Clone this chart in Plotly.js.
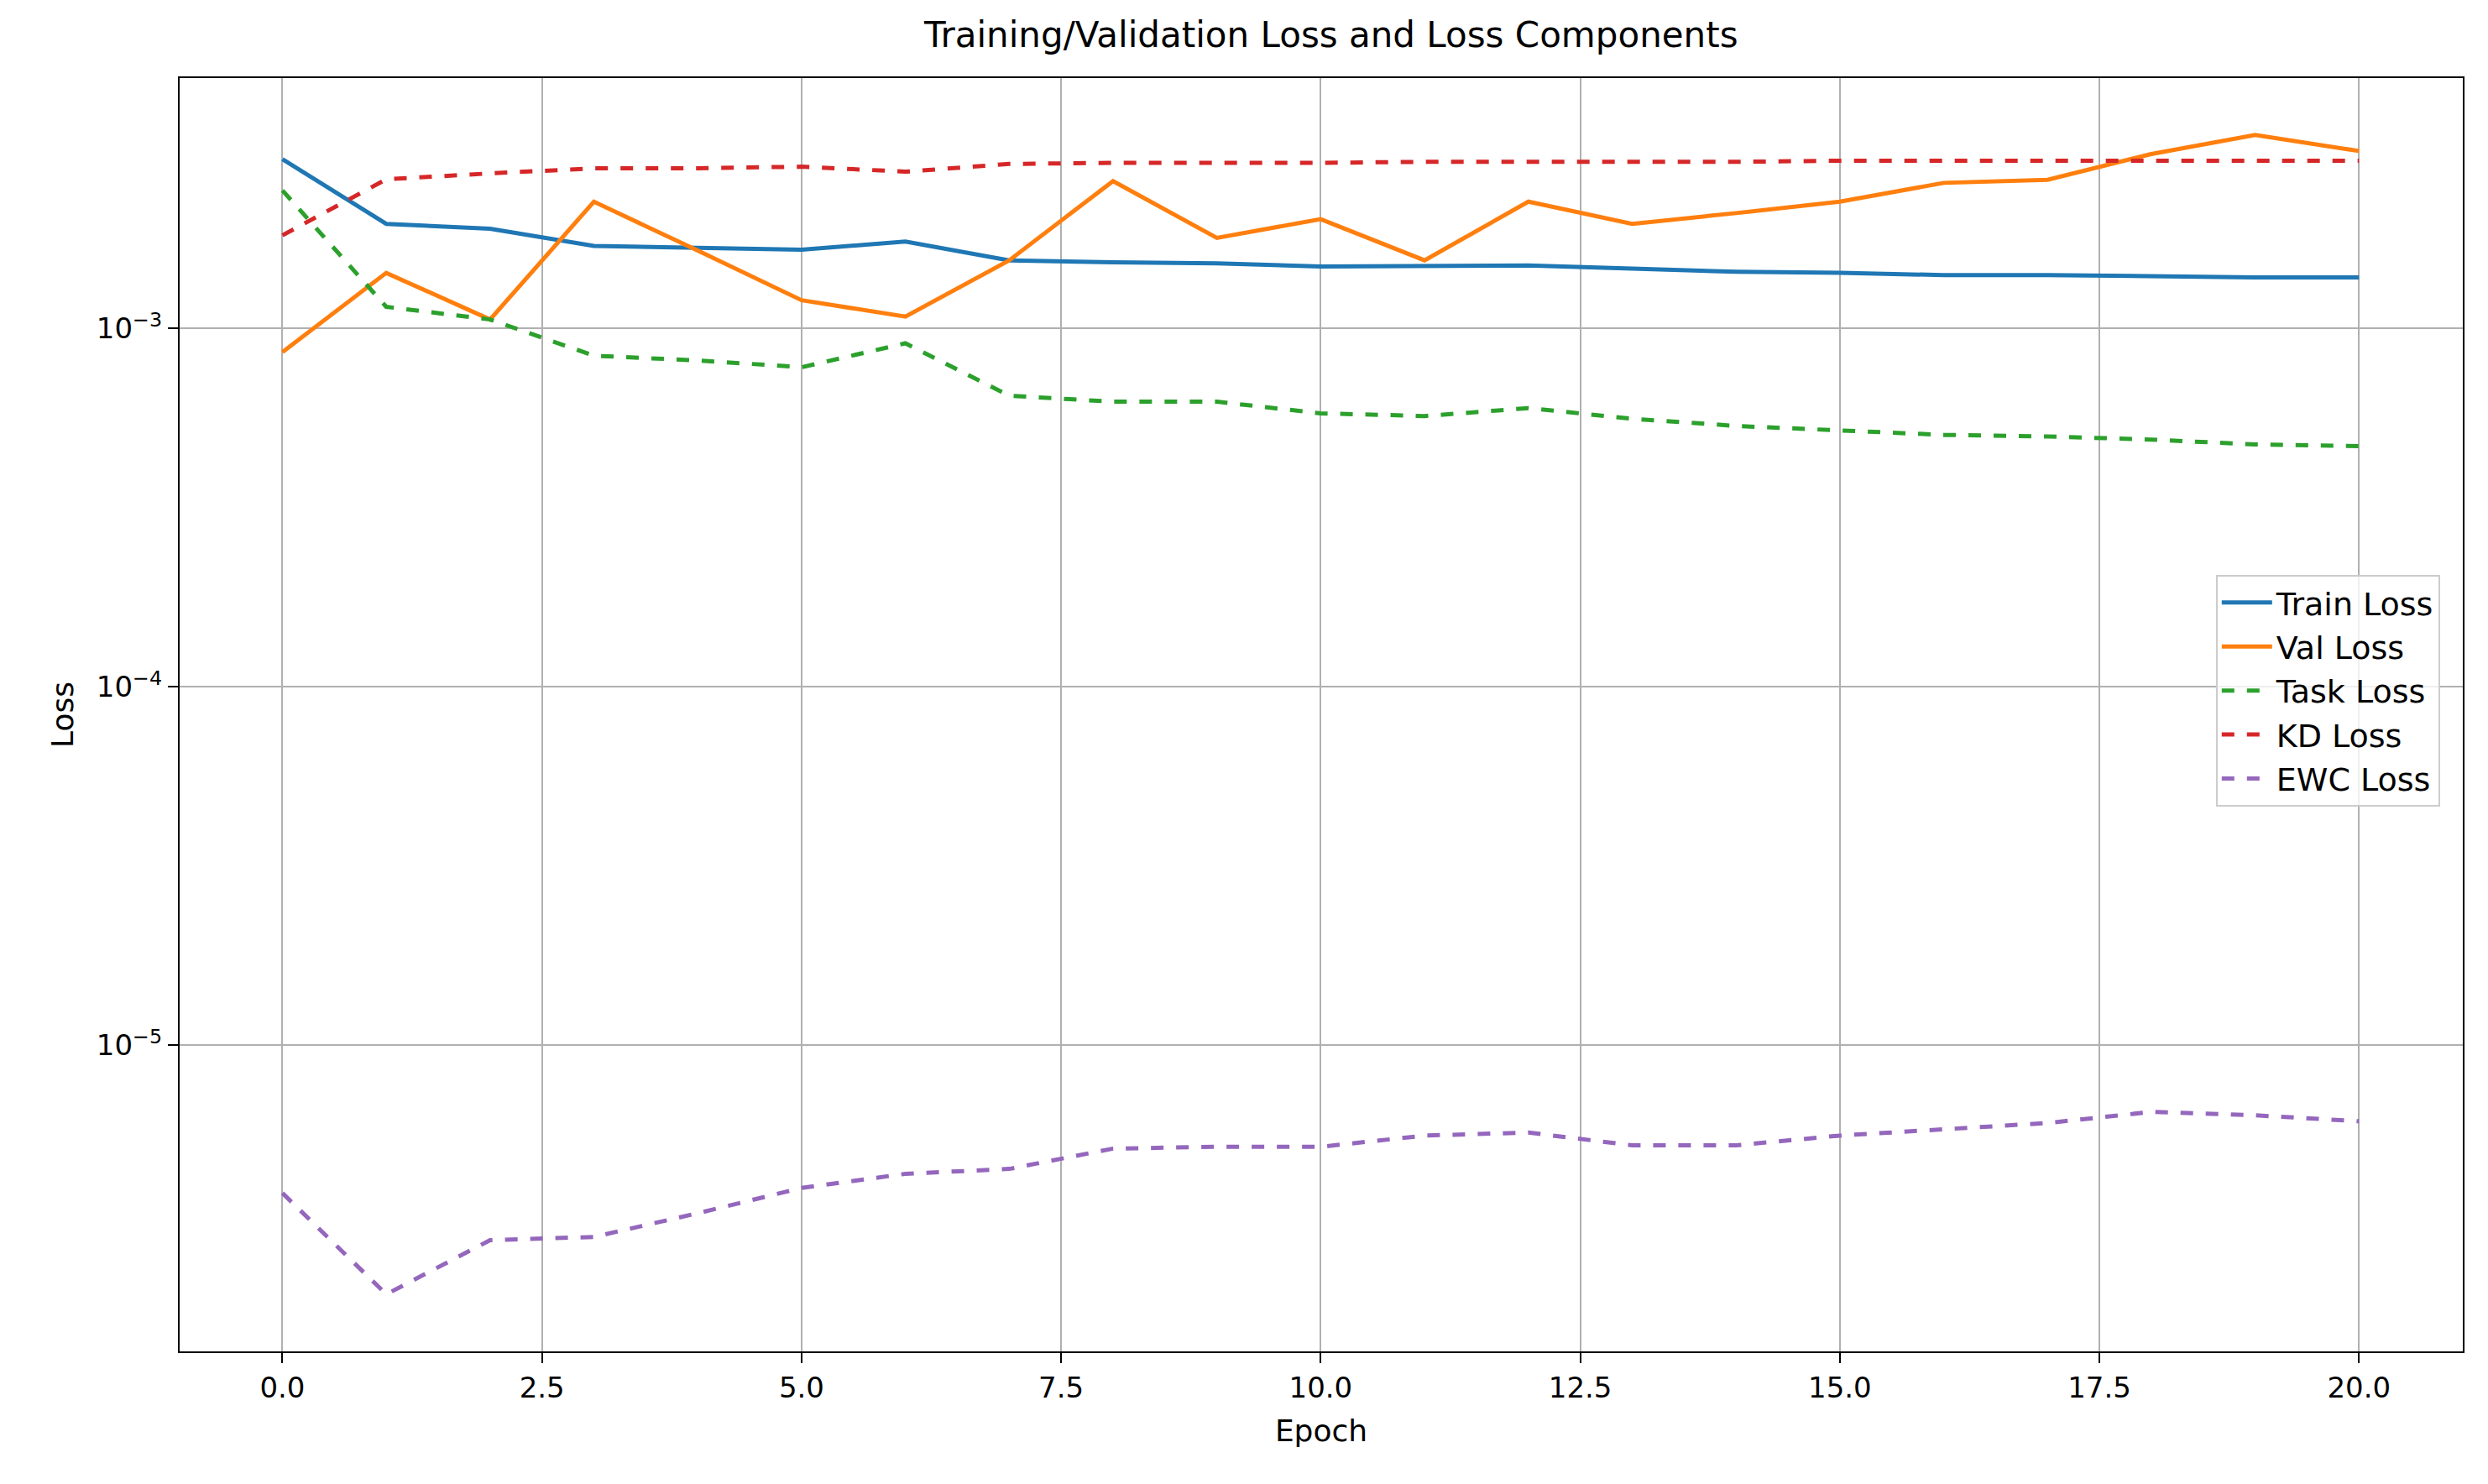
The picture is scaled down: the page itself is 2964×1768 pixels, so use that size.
<!DOCTYPE html>
<html>
<head>
<meta charset="utf-8">
<script src="https://cdn.plot.ly/plotly-3.0.1.min.js"></script>
<style>html,body{margin:0;padding:0;background:#fff;}</style>
</head>
<body>
<div id="chart" style="width:2964px;height:1768px;"></div>
<script>
// values (log scale)
const epochs = [0,1,2,3,4,5,6,7,8,9,10,11,12,13,14,15,16,17,18,19,20];
const trainLoss = [2.97e-3,1.96e-3,1.90e-3,1.70e-3,1.68e-3,1.66e-3,1.75e-3,1.55e-3,1.53e-3,1.52e-3,1.49e-3,1.49e-3,1.50e-3,1.47e-3,1.44e-3,1.43e-3,1.41e-3,1.41e-3,1.40e-3,1.39e-3,1.39e-3];
const valLoss = [0.86e-3,1.43e-3,1.06e-3,2.26e-3,1.65e-3,1.20e-3,1.08e-3,1.55e-3,2.58e-3,1.79e-3,2.02e-3,1.55e-3,2.26e-3,1.96e-3,2.10e-3,2.26e-3,2.55e-3,2.60e-3,3.07e-3,3.47e-3,3.13e-3];
const taskLoss = [2.43e-3,1.15e-3,1.06e-3,0.84e-3,0.815e-3,0.78e-3,0.91e-3,0.65e-3,0.625e-3,0.625e-3,0.58e-3,0.57e-3,0.60e-3,0.56e-3,0.535e-3,0.52e-3,0.505e-3,0.50e-3,0.49e-3,0.475e-3,0.47e-3];
const kdLoss = [1.82e-3,2.61e-3,2.71e-3,2.80e-3,2.80e-3,2.83e-3,2.74e-3,2.88e-3,2.90e-3,2.90e-3,2.90e-3,2.92e-3,2.92e-3,2.92e-3,2.92e-3,2.94e-3,2.94e-3,2.94e-3,2.94e-3,2.94e-3,2.94e-3];
const ewcLoss = [3.87e-6,2.02e-6,2.86e-6,2.92e-6,3.40e-6,4.00e-6,4.38e-6,4.52e-6,5.15e-6,5.21e-6,5.21e-6,5.60e-6,5.71e-6,5.26e-6,5.26e-6,5.60e-6,5.83e-6,6.07e-6,6.52e-6,6.38e-6,6.14e-6];
const yTickVals = [1e-5, 1e-4, 1e-3];
const yTickText = ["10<sup>−5</sup>", "10<sup>−4</sup>", "10<sup>−3</sup>"];
const xTickVals = [0, 2.5, 5, 7.5, 10, 12.5, 15, 17.5, 20];

function line(y, name, color, dash) {
    return { x: epochs, y: y, name: name, type: "scatter", mode: "lines",
             line: { color: color, width: 5, dash: dash } };
}

const traces = [
    line(trainLoss, "Train Loss", "#1f77b4", "solid"),
    line(valLoss, "Val Loss", "#ff7f0e", "solid"),
    line(taskLoss, "Task Loss", "#2ca02c", "dash"),
    line(kdLoss, "KD Loss", "#d62728", "dash"),
    line(ewcLoss, "EWC Loss", "#9467bd", "dash")
];

const axisBase = {
    showline: true, linecolor: "#000", linewidth: 2, mirror: true,
    showgrid: true, gridcolor: "#b0b0b0", gridwidth: 2,
    ticks: "outside", ticklen: 12, tickwidth: 2, tickcolor: "#000",
    zeroline: false, tickfont: { size: 34, color: "#000" }
};

const layout = {
    width: 2964, height: 1768,
    paper_bgcolor: "#fff", plot_bgcolor: "#fff",
    font: { family: "DejaVu Sans", color: "#000" },
    margin: { l: 214, r: 30, t: 93, b: 158 },
    title: { text: "Training/Validation Loss and Loss Components", font: { size: 42 }, x: 0.535, y: 0.985 },
    xaxis: Object.assign({}, axisBase, {
        range: [-0.99, 21.0], tickvals: xTickVals,
        ticktext: xTickVals.map(v => v.toFixed(1)),
        title: { text: "Epoch", font: { size: 36 }, standoff: 20 }
    }),
    yaxis: Object.assign({}, axisBase, {
        type: "log", range: [-5.854, -2.301],
        tickvals: yTickVals, ticktext: yTickText,
        title: { text: "Loss", font: { size: 36 }, standoff: 16 }
    }),
    showlegend: true,
    legend: {
        x: 0.99, y: 0.61, xanchor: "right", yanchor: "top",
        bgcolor: "rgba(255,255,255,0.8)", bordercolor: "#ccc", borderwidth: 2,
        font: { size: 38 }, itemwidth: 60, tracegroupgap: 0
    }
};

Plotly.newPlot("chart", traces, layout, { displayModeBar: false, staticPlot: true });
</script>
</body>
</html>
